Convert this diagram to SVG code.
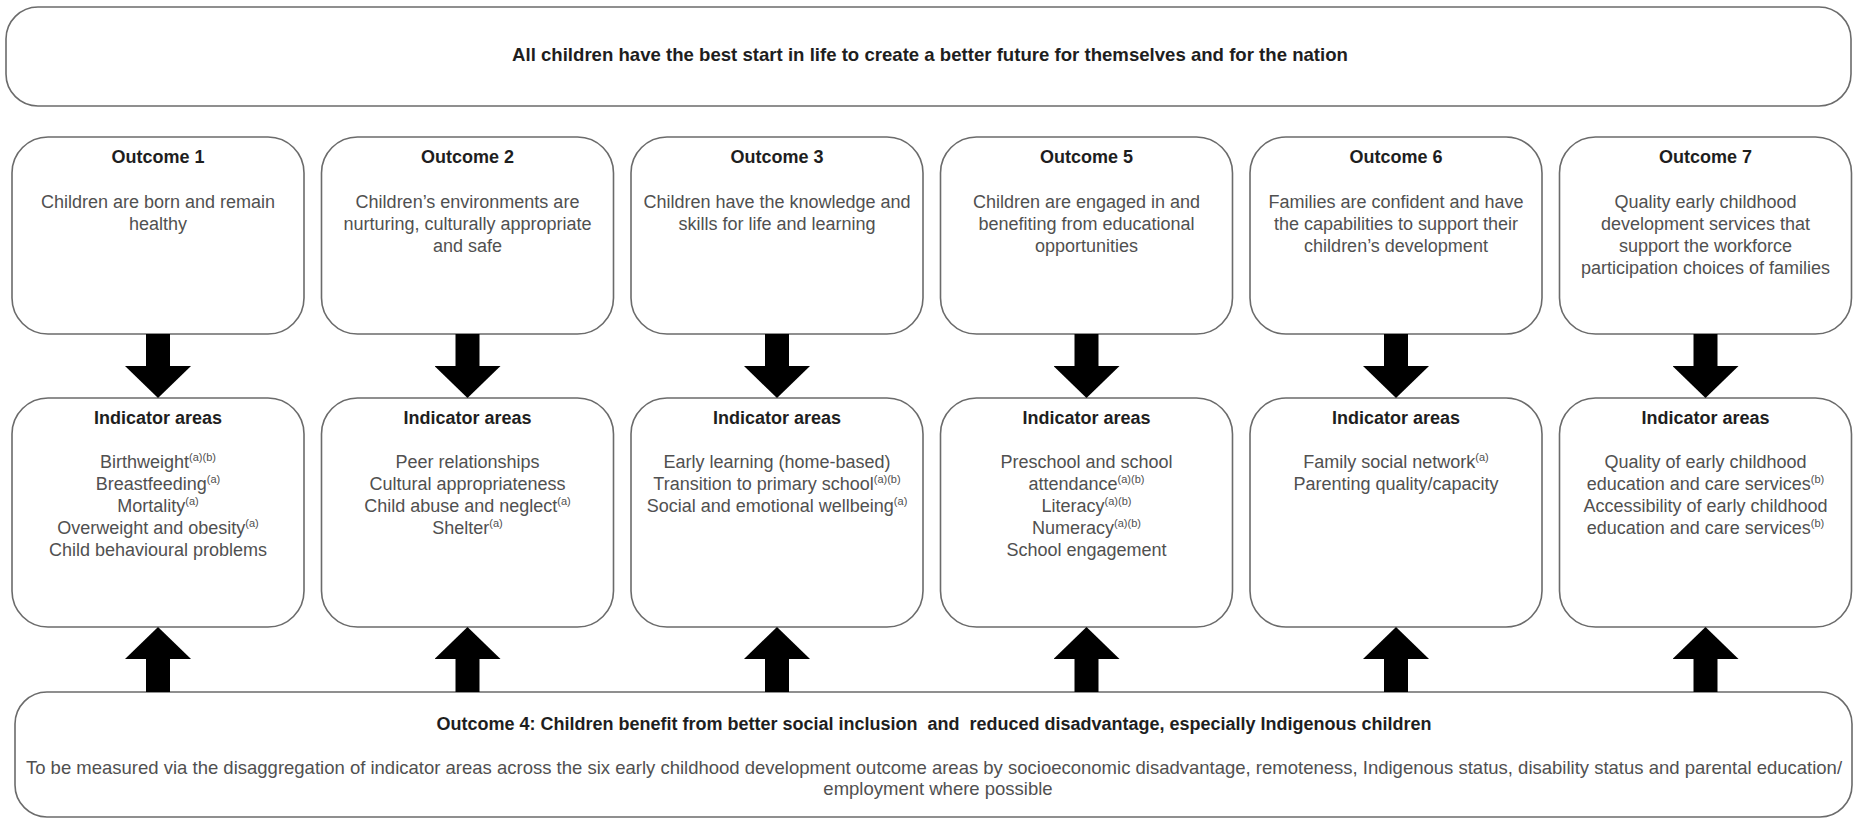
<svg xmlns="http://www.w3.org/2000/svg" width="1862" height="819" viewBox="0 0 1862 819">
<defs>
<style>
.box{fill:#fff;stroke:#6b6b6b;stroke-width:1.6}
.h{font-family:"Liberation Sans",Arial,sans-serif;font-size:18px;font-weight:bold;fill:#1e1e1e;text-anchor:middle}
.t{font-family:"Liberation Sans",Arial,sans-serif;font-size:18px;fill:#505050;text-anchor:middle}
.big{font-size:18.5px}
.sup{font-size:11px}
.arr{stroke:#000;stroke-width:24;fill:none;marker-end:url(#head)}
</style>
<marker id="head" viewBox="0 0 32 66" markerWidth="32" markerHeight="66" refX="0" refY="33" orient="auto" markerUnits="userSpaceOnUse">
<path d="M0,0 L32,33 L0,66 Z" fill="#000"/>
</marker>
</defs>
<rect width="1862" height="819" fill="#fff"/>

<g id="goal">
<rect class="box" x="6" y="7" width="1845" height="99" rx="32" ry="32"/>
<text class="h" x="930" y="61" style="font-size:18.6px">All children have the best start in life to create a better future for themselves and for the nation</text>
</g>

<g id="outcome1">
<rect class="box" x="12" y="137" width="292" height="197" rx="36" ry="36"/>
<text class="h" x="158" y="163">Outcome 1</text>
<text class="t" x="158" y="208">Children are born and remain</text>
<text class="t" x="158" y="230">healthy</text>
</g>
<g id="outcome2">
<rect class="box" x="321.5" y="137" width="292" height="197" rx="36" ry="36"/>
<text class="h" x="467.5" y="163">Outcome 2</text>
<text class="t" x="467.5" y="208">Children’s environments are</text>
<text class="t" x="467.5" y="230">nurturing, culturally appropriate</text>
<text class="t" x="467.5" y="252">and safe</text>
</g>
<g id="outcome3">
<rect class="box" x="631" y="137" width="292" height="197" rx="36" ry="36"/>
<text class="h" x="777" y="163">Outcome 3</text>
<text class="t" x="777" y="208">Children have the knowledge and</text>
<text class="t" x="777" y="230">skills for life and learning</text>
</g>
<g id="outcome5">
<rect class="box" x="940.5" y="137" width="292" height="197" rx="36" ry="36"/>
<text class="h" x="1086.5" y="163">Outcome 5</text>
<text class="t" x="1086.5" y="208">Children are engaged in and</text>
<text class="t" x="1086.5" y="230">benefiting from educational</text>
<text class="t" x="1086.5" y="252">opportunities</text>
</g>
<g id="outcome6">
<rect class="box" x="1250" y="137" width="292" height="197" rx="36" ry="36"/>
<text class="h" x="1396" y="163">Outcome 6</text>
<text class="t" x="1396" y="208">Families are confident and have</text>
<text class="t" x="1396" y="230">the capabilities to support their</text>
<text class="t" x="1396" y="252">children’s development</text>
</g>
<g id="outcome7">
<rect class="box" x="1559.5" y="137" width="292" height="197" rx="36" ry="36"/>
<text class="h" x="1705.5" y="163">Outcome 7</text>
<text class="t" x="1705.5" y="208">Quality early childhood</text>
<text class="t" x="1705.5" y="230">development services that</text>
<text class="t" x="1705.5" y="252">support the workforce</text>
<text class="t" x="1705.5" y="274">participation choices of families</text>
</g>

<g id="indicators1">
<rect class="box" x="12" y="398" width="292" height="229" rx="36" ry="36"/>
<text class="h" x="158" y="424">Indicator areas</text>
<text class="t" x="158" y="468">Birthweight<tspan class="sup" dy="-7">(a)(b)</tspan></text>
<text class="t" x="158" y="490">Breastfeeding<tspan class="sup" dy="-7">(a)</tspan></text>
<text class="t" x="158" y="512">Mortality<tspan class="sup" dy="-7">(a)</tspan></text>
<text class="t" x="158" y="534">Overweight and obesity<tspan class="sup" dy="-7">(a)</tspan></text>
<text class="t" x="158" y="556">Child behavioural problems</text>
</g>
<g id="indicators2">
<rect class="box" x="321.5" y="398" width="292" height="229" rx="36" ry="36"/>
<text class="h" x="467.5" y="424">Indicator areas</text>
<text class="t" x="467.5" y="468">Peer relationships</text>
<text class="t" x="467.5" y="490">Cultural appropriateness</text>
<text class="t" x="467.5" y="512">Child abuse and neglect<tspan class="sup" dy="-7">(a)</tspan></text>
<text class="t" x="467.5" y="534">Shelter<tspan class="sup" dy="-7">(a)</tspan></text>
</g>
<g id="indicators3">
<rect class="box" x="631" y="398" width="292" height="229" rx="36" ry="36"/>
<text class="h" x="777" y="424">Indicator areas</text>
<text class="t" x="777" y="468">Early learning (home-based)</text>
<text class="t" x="777" y="490">Transition to primary school<tspan class="sup" dy="-7">(a)(b)</tspan></text>
<text class="t" x="777" y="512">Social and emotional wellbeing<tspan class="sup" dy="-7">(a)</tspan></text>
</g>
<g id="indicators5">
<rect class="box" x="940.5" y="398" width="292" height="229" rx="36" ry="36"/>
<text class="h" x="1086.5" y="424">Indicator areas</text>
<text class="t" x="1086.5" y="468">Preschool and school</text>
<text class="t" x="1086.5" y="490">attendance<tspan class="sup" dy="-7">(a)(b)</tspan></text>
<text class="t" x="1086.5" y="512">Literacy<tspan class="sup" dy="-7">(a)(b)</tspan></text>
<text class="t" x="1086.5" y="534">Numeracy<tspan class="sup" dy="-7">(a)(b)</tspan></text>
<text class="t" x="1086.5" y="556">School engagement</text>
</g>
<g id="indicators6">
<rect class="box" x="1250" y="398" width="292" height="229" rx="36" ry="36"/>
<text class="h" x="1396" y="424">Indicator areas</text>
<text class="t" x="1396" y="468">Family social network<tspan class="sup" dy="-7">(a)</tspan></text>
<text class="t" x="1396" y="490">Parenting quality/capacity</text>
</g>
<g id="indicators7">
<rect class="box" x="1559.5" y="398" width="292" height="229" rx="36" ry="36"/>
<text class="h" x="1705.5" y="424">Indicator areas</text>
<text class="t" x="1705.5" y="468">Quality of early childhood</text>
<text class="t" x="1705.5" y="490">education and care services<tspan class="sup" dy="-7">(b)</tspan></text>
<text class="t" x="1705.5" y="512">Accessibility of early childhood</text>
<text class="t" x="1705.5" y="534">education and care services<tspan class="sup" dy="-7">(b)</tspan></text>
</g>

<g id="outcome4">
<rect class="box" x="15" y="692" width="1837" height="125" rx="32" ry="32"/>
<text class="h" x="934" y="730" xml:space="preserve">Outcome 4: Children benefit from better social inclusion  and  reduced disadvantage, especially Indigenous children</text>
<text class="t big" x="934" y="774">To be measured via the disaggregation of indicator areas across the six early childhood development outcome areas by socioeconomic disadvantage, remoteness, Indigenous status, disability status and parental education/</text>
<text class="t big" x="938" y="795">employment where possible</text>
</g>

<g id="connectors">
<line class="arr" x1="158" y1="334" x2="158" y2="366"/>
<line class="arr" x1="467.5" y1="334" x2="467.5" y2="366"/>
<line class="arr" x1="777" y1="334" x2="777" y2="366"/>
<line class="arr" x1="1086.5" y1="334" x2="1086.5" y2="366"/>
<line class="arr" x1="1396" y1="334" x2="1396" y2="366"/>
<line class="arr" x1="1705.5" y1="334" x2="1705.5" y2="366"/>
<line class="arr" x1="158" y1="692" x2="158" y2="659"/>
<line class="arr" x1="467.5" y1="692" x2="467.5" y2="659"/>
<line class="arr" x1="777" y1="692" x2="777" y2="659"/>
<line class="arr" x1="1086.5" y1="692" x2="1086.5" y2="659"/>
<line class="arr" x1="1396" y1="692" x2="1396" y2="659"/>
<line class="arr" x1="1705.5" y1="692" x2="1705.5" y2="659"/>
</g>
</svg>
